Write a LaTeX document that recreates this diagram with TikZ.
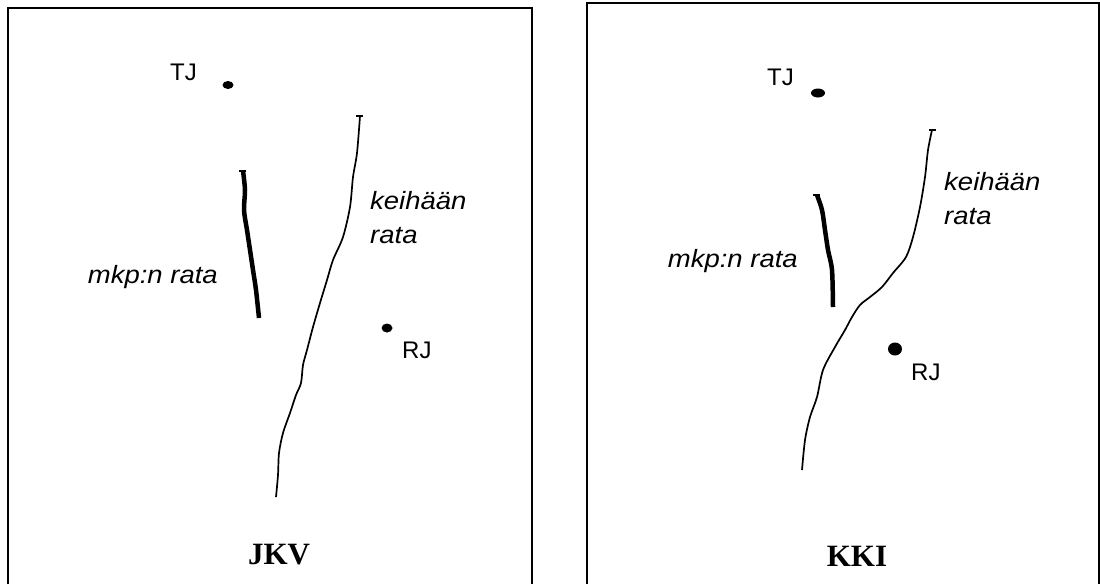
\documentclass[tikz,border=0pt]{standalone}
\usepackage{fontspec}
\usetikzlibrary{shapes.geometric}
\setmainfont{Liberation Serif}
\newfontfamily\sansf{Liberation Sans}
\newfontfamily\sansst[FakeStretch=1.1]{Liberation Sans}
\begin{document}
\begin{tikzpicture}[x=1pt,y=-1pt,
  frame/.style={line width=2pt},
  lbl/.style={font=\sansf\fontsize{24}{24}\selectfont, inner sep=0pt},
  ilbl/.style={font=\sansst\itshape\fontsize{25}{25}\selectfont, inner sep=0pt},
  ttl/.style={font=\bfseries\fontsize{31}{31}\selectfont, inner sep=0pt},
  dot/.style={ellipse, fill=black, inner sep=0pt},
  spear/.style={line width=1.7pt, line join=round},
  ball/.style={line width=4.5pt, line join=round},
  tick/.style={line width=1.7pt},
]
\useasboundingbox (0,0) rectangle (1100,584);
\fill[white] (0,0) rectangle (1100,584);
% frames
\draw[frame] (8,584) -- (8,8) -- (532,8) -- (532,584);
\draw[frame] (587,584) -- (587,3) -- (1099,3) -- (1099,584);

% ---------- left panel (JKV)
\node[lbl, anchor=base east] (tjL) at (197,80) {TJ};
\node[dot, minimum width=11pt, minimum height=8pt] (tjdL) at (228,85) {};
\node[dot, minimum width=11pt, minimum height=9pt] (rjdL) at (387,328) {};
\node[lbl, anchor=base west] (rjL) at (402,358) {RJ};
\node[ilbl, anchor=base west] (keiL) at (370,209) {keihään};
\node[ilbl, anchor=base west] (rataL) at (370,243) {rata};
\node[ilbl, anchor=base east] (mkpL) at (218,283) {mkp:n rata};
\node[ttl] (jkv) at (279,555) {JKV};

\draw[tick] (356,116) -- (363,116);
\draw[spear] plot[smooth, tension=0.5] coordinates {(360,116) (357,153) (353,177) (350,207) (343,237) (333,260) (327,280) (320,303) (313,327) (307,350) (303,365) (301,383) (296,395) (290,413) (283,433) (279,453) (278,475) (276,497)};
\draw[tick] (239,171) -- (246,171);
\draw[ball] plot[smooth, tension=0.5] coordinates {(243,171) (245,190) (244,210) (247,230) (250,250) (253,270) (256,290) (259,318)};

% ---------- right panel (KKI)
\node[lbl, anchor=base east] (tjR) at (794,85) {TJ};
\node[dot, minimum width=14pt, minimum height=9pt] (tjdR) at (818,93) {};
\node[dot, minimum width=14pt, minimum height=13pt] (rjdR) at (895,349) {};
\node[lbl, anchor=base west] (rjR) at (911,380) {RJ};
\node[ilbl, anchor=base west] (keiR) at (944,190) {keihään};
\node[ilbl, anchor=base west] (rataR) at (944,224) {rata};
\node[ilbl, anchor=base east] (mkpR) at (798,267) {mkp:n rata};
\node[ttl] (kki) at (857,556) {KKI};

\draw[tick] (929,130) -- (936,130);
\draw[spear] plot[smooth, tension=0.5] coordinates {(932,130) (928,150) (925,177) (920,207) (913,237) (906,257) (893,273) (882,287) (870,297) (860,305) (852,317) (845,330) (835,347) (823,370) (817,397) (810,417) (805,440) (802,470)};
\draw[tick] (813,195) -- (820,195);
\draw[ball] plot[smooth, tension=0.5] coordinates {(817,195) (822,210) (825,230) (828,250) (832,270) (833,307)};
\end{tikzpicture}
\end{document}
